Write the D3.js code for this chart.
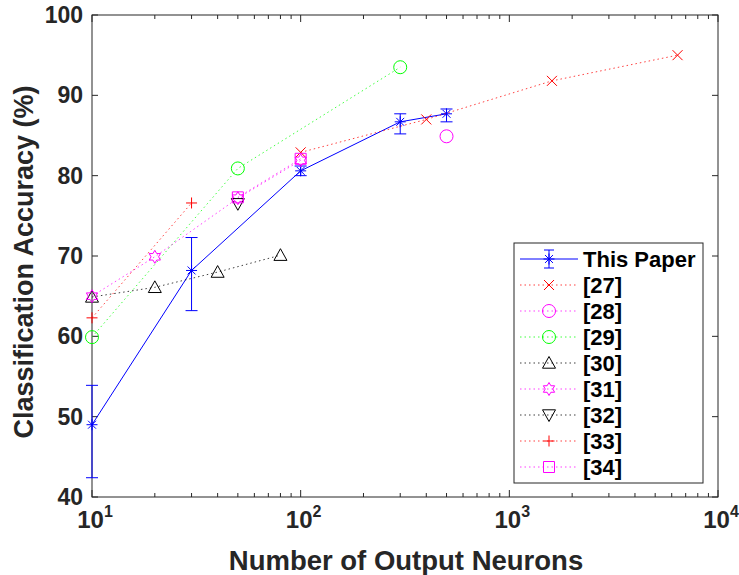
<!DOCTYPE html>
<html>
<head>
<meta charset="utf-8">
<script src="https://cdn.jsdelivr.net/npm/d3@7"></script>
<style>
  body { margin: 0; background: #fff; }
  text { font-family: "Liberation Sans", Arial, sans-serif; font-weight: bold; fill: #262626; }
</style>
</head>
<body>
<div id="chart"></div>
<script>
// data
const thisPaperX = [10, 30, 100, 300, 500];
const thisPaperY = [49.0, 68.2, 80.6, 86.7, 87.7];
const thisPaperLow = [42.4, 63.2, 80.0, 85.2, 86.7];
const thisPaperHigh = [53.9, 72.3, 81.2, 87.7, 88.3];

const ref27X = [100, 400, 1600, 6400];
const ref27Y = [82.9, 87.0, 91.8, 95.0];
const ref28X = [500];
const ref28Y = [84.9];
const ref29X = [10, 50, 300];
const ref29Y = [59.9, 80.9, 93.5];
const ref30X = [10, 20, 40, 80];
const ref30Y = [64.9, 66.1, 68.0, 70.1];
const ref31X = [10, 20, 50, 100];
const ref31Y = [65.0, 69.9, 77.2, 81.9];
const ref32X = [50];
const ref32Y = [76.5];
const ref33X = [10, 30];
const ref33Y = [62.3, 76.6];
const ref34X = [50, 100];
const ref34Y = [77.3, 82.1];

const yTicks = [40, 50, 60, 70, 80, 90, 100];
const xDecades = [10, 100, 1000, 10000];
const xTitle = 'Number of Output Neurons';
const yTitle = 'Classification Accuracy (%)';

const series = [
  { name: '[27]', xs: ref27X, ys: ref27Y, color: '#ff0000', marker: 'x' },
  { name: '[28]', xs: ref28X, ys: ref28Y, color: '#ff00ff', marker: 'circle' },
  { name: '[29]', xs: ref29X, ys: ref29Y, color: '#00ff00', marker: 'circle' },
  { name: '[30]', xs: ref30X, ys: ref30Y, color: '#000000', marker: 'triUp' },
  { name: '[31]', xs: ref31X, ys: ref31Y, color: '#ff00ff', marker: 'hexagram' },
  { name: '[32]', xs: ref32X, ys: ref32Y, color: '#000000', marker: 'triDown' },
  { name: '[33]', xs: ref33X, ys: ref33Y, color: '#ff0000', marker: 'plus' },
  { name: '[34]', xs: ref34X, ys: ref34Y, color: '#ff00ff', marker: 'square' },
];

const width = 739;
const height = 575;
const margin = { top: 15, right: 21, bottom: 78, left: 92 };

const svg = d3.select('#chart').append('svg')
  .attr('width', width)
  .attr('height', height);

const x = d3.scaleLog()
  .domain([10, 10000])
  .range([margin.left, width - margin.right]);

const y = d3.scaleLinear()
  .domain([40, 100])
  .range([height - margin.bottom, margin.top]);

const x0 = x.range()[0];
const x1 = x.range()[1];
const y0 = y.range()[0];
const y1 = y.range()[1];

// marker shapes (stroked, MATLAB style)
const markerPath = (type, s) => {
  const r = s / 2;
  if (type === 'x') return `M${-r},${-r}L${r},${r}M${-r},${r}L${r},${-r}`;
  if (type === 'plus') return `M${-r},0L${r},0M0,${-r}L0,${r}`;
  if (type === 'star') {
    const d = r * 0.72;
    return `M${-r},0L${r},0M0,${-r}L0,${r}M${-d},${-d}L${d},${d}M${-d},${d}L${d},${-d}`;
  }
  if (type === 'circle') return `M${r},0A${r},${r} 0 1,1 ${-r},0A${r},${r} 0 1,1 ${r},0Z`;
  if (type === 'square') return `M${-r},${-r}H${r}V${r}H${-r}Z`;
  if (type === 'triUp') return `M0,${-r}L${r},${r * 0.8}L${-r},${r * 0.8}Z`;
  if (type === 'triDown') return `M0,${r}L${r},${-r * 0.8}L${-r},${-r * 0.8}Z`;
  if (type === 'hexagram') {
    const pts = [];
    for (let i = 0; i < 12; i += 1) {
      const a = -Math.PI / 2 + (i * Math.PI) / 6;
      const rr = i % 2 === 0 ? r : r / Math.sqrt(3);
      pts.push([rr * Math.cos(a), rr * Math.sin(a)]);
    }
    return `M${pts.map((p) => p.join(',')).join('L')}Z`;
  }
  return '';
};

const markerSize = {
  x: 10, plus: 11, star: 11, circle: 13, square: 11, triUp: 13, triDown: 13, hexagram: 13,
};

// axes box
const axisColor = '#262626';
svg.append('rect')
  .attr('x', x0).attr('y', y1)
  .attr('width', x1 - x0).attr('height', y0 - y1)
  .attr('fill', 'none')
  .attr('stroke', axisColor)
  .attr('stroke-width', 1);

// y ticks (inward, both sides)
const ticks = svg.append('g').attr('stroke', axisColor).attr('stroke-width', 1);
yTicks.forEach((t) => {
  ticks.append('line').attr('x1', x0).attr('x2', x0 + 6).attr('y1', y(t)).attr('y2', y(t));
  ticks.append('line').attr('x1', x1).attr('x2', x1 - 6).attr('y1', y(t)).attr('y2', y(t));
});

// x ticks, major and minor (log)
x.ticks().forEach((t) => {
  const isMajor = xDecades.includes(t);
  const len = isMajor ? 7 : 4;
  ticks.append('line').attr('x1', x(t)).attr('x2', x(t)).attr('y1', y0).attr('y2', y0 - len);
  ticks.append('line').attr('x1', x(t)).attr('x2', x(t)).attr('y1', y1).attr('y2', y1 + len);
});

// tick labels
svg.append('g').selectAll('text')
  .data(yTicks)
  .join('text')
  .attr('x', x0 - 9)
  .attr('y', (d) => y(d) + 8)
  .attr('text-anchor', 'end')
  .style('font-size', '23px')
  .text((d) => d);

const xLab = svg.append('g').selectAll('text')
  .data(xDecades)
  .join('text')
  .attr('x', (d) => x(d) + 3)
  .attr('y', y0 + 31)
  .attr('text-anchor', 'middle')
  .style('font-size', '24px');
xLab.append('tspan').text('10');
xLab.append('tspan')
  .attr('dy', -11)
  .style('font-size', '16px')
  .text((d) => Math.round(Math.log10(d)));

// axis titles
svg.append('text')
  .attr('x', (x0 + x1) / 2 + 1)
  .attr('y', height - 5)
  .attr('text-anchor', 'middle')
  .style('font-size', '27.5px')
  .text(xTitle);

svg.append('text')
  .attr('transform', `translate(33,${(y0 + y1) / 2 + 6}) rotate(-90)`)
  .attr('text-anchor', 'middle')
  .style('font-size', '27px')
  .text(yTitle);

const plot = svg.append('g');
const line = d3.line().x((d) => x(d[0])).y((d) => y(d[1]));

// This Paper: solid line with error bars
const tp = thisPaperX.map((v, i) => [v, thisPaperY[i], thisPaperLow[i], thisPaperHigh[i]]);
plot.append('path')
  .datum(tp)
  .attr('d', line)
  .attr('fill', 'none')
  .attr('stroke', '#0000ff')
  .attr('stroke-width', 1);

const eb = plot.append('g').attr('stroke', '#0000ff').attr('stroke-width', 1);
tp.forEach((d) => {
  const cx = x(d[0]);
  eb.append('line').attr('x1', cx).attr('x2', cx).attr('y1', y(d[2])).attr('y2', y(d[3]));
  eb.append('line').attr('x1', cx - 6).attr('x2', cx + 6).attr('y1', y(d[2])).attr('y2', y(d[2]));
  eb.append('line').attr('x1', cx - 6).attr('x2', cx + 6).attr('y1', y(d[3])).attr('y2', y(d[3]));
});
plot.append('g').selectAll('path')
  .data(tp)
  .join('path')
  .attr('transform', (d) => `translate(${x(d[0])},${y(d[1])})`)
  .attr('d', markerPath('star', markerSize.star))
  .attr('fill', 'none')
  .attr('stroke', '#0000ff')
  .attr('stroke-width', 1);

// reference series: dotted lines with markers
series.forEach((s) => {
  const pts = s.xs.map((v, i) => [v, s.ys[i]]);
  plot.append('path')
    .datum(pts)
    .attr('d', line)
    .attr('fill', 'none')
    .attr('stroke', s.color)
    .attr('stroke-width', 1)
    .attr('stroke-dasharray', '1.5,3')
    .attr('opacity', 0.75);
  plot.append('g').selectAll('path')
    .data(pts)
    .join('path')
    .attr('transform', (d) => `translate(${x(d[0])},${y(d[1])})`)
    .attr('d', markerPath(s.marker, markerSize[s.marker]))
    .attr('fill', 'none')
    .attr('stroke', s.color)
    .attr('stroke-width', 1);
});

// legend
const legend = svg.append('g');
legend.append('rect')
  .attr('x', 514).attr('y', 243)
  .attr('width', 189).attr('height', 240)
  .attr('fill', '#fff')
  .attr('stroke', axisColor)
  .attr('stroke-width', 1);

const legendItems = [{ name: 'This Paper', color: '#0000ff', marker: 'star', solid: true }].concat(series);
legendItems.forEach((s, i) => {
  const cy = 259 + i * 26;
  const g = legend.append('g');
  g.append('line')
    .attr('x1', 520).attr('x2', 578).attr('y1', cy).attr('y2', cy)
    .attr('stroke', s.color)
    .attr('stroke-width', 1)
    .attr('stroke-dasharray', s.solid ? null : '1.5,3')
    .attr('opacity', s.solid ? 1 : 0.75);
  if (s.solid) {
    g.append('line').attr('x1', 549).attr('x2', 549).attr('y1', cy - 9).attr('y2', cy + 9)
      .attr('stroke', s.color);
    g.append('line').attr('x1', 544).attr('x2', 554).attr('y1', cy - 9).attr('y2', cy - 9)
      .attr('stroke', s.color);
    g.append('line').attr('x1', 544).attr('x2', 554).attr('y1', cy + 9).attr('y2', cy + 9)
      .attr('stroke', s.color);
  }
  g.append('path')
    .attr('transform', `translate(549,${cy})`)
    .attr('d', markerPath(s.marker, markerSize[s.marker]))
    .attr('fill', 'none')
    .attr('stroke', s.color)
    .attr('stroke-width', 1);
  g.append('text')
    .attr('x', 583)
    .attr('y', cy + 8)
    .style('font-size', '22px')
    .style('fill', '#000')
    .text(s.name);
});
</script>
</body>
</html>
